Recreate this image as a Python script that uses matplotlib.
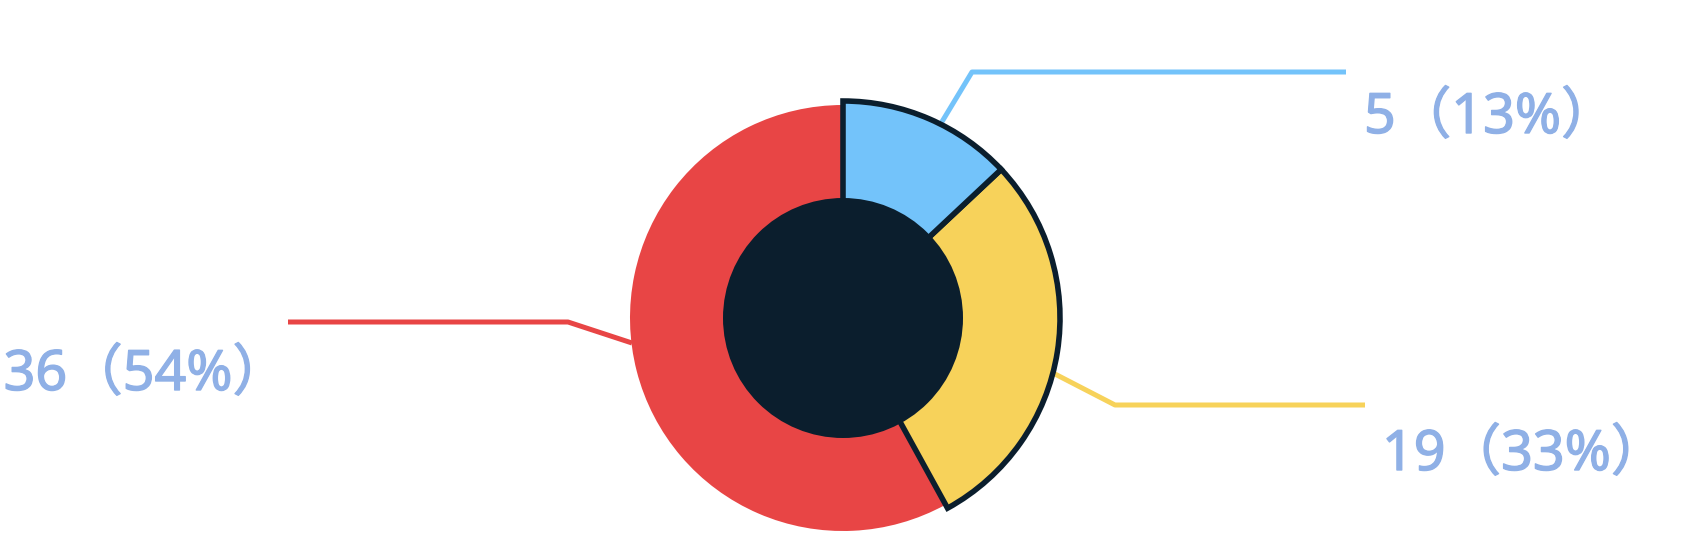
import matplotlib
matplotlib.use("Agg")
import matplotlib.pyplot as plt
from matplotlib.patches import Wedge, Circle
import matplotlib.patheffects as pe
import numpy as np

# ---- data ----
counts = [5, 19, 36]
percent_labels = ["13%", "33%", "54%"]
slice_shares = [13, 29, 58]          # angular share of each slice as drawn
colors = ["#73c3fa", "#f7d25a", "#e84545"]
highlighted = [True, True, False]

W, H = 1686, 534
fig = plt.figure(figsize=(W / 100, H / 100), dpi=100)
ax = fig.add_axes([0, 0, 1, 1])
ax.set_xlim(0, W)
ax.set_ylim(H, 0)
ax.set_aspect("equal")
ax.axis("off")

cx, cy = 843, 318
r_out, r_out_hi, r_in = 213, 217, 120
dark = "#0b1e2d"
label_color = "#8fb0e6"

fr = np.array(slice_shares, float) / sum(slice_shares)
starts = np.concatenate([[0], np.cumsum(fr)[:-1]]) * 360
ends = np.cumsum(fr) * 360

order = [2, 1, 0]
for i in order:
    t1, t2 = starts[i] - 90, ends[i] - 90
    if highlighted[i]:
        w = Wedge((cx, cy), r_out_hi, t1, t2, facecolor=colors[i],
                  edgecolor=dark, linewidth=4.0, joinstyle="miter", zorder=3)
    else:
        w = Wedge((cx, cy), r_out, t1, t2, facecolor=colors[i],
                  edgecolor="none", zorder=2)
    ax.add_patch(w)

ax.add_patch(Circle((cx, cy), r_in, facecolor=dark, edgecolor="none", zorder=4))

# leader lines
lw = 3.6
ax.plot([940, 972, 1346], [125, 72, 72], color=colors[0], lw=lw, zorder=1,
        solid_capstyle="butt")
ax.plot([1053, 1115, 1365], [373, 405, 405], color=colors[1], lw=lw, zorder=1,
        solid_capstyle="butt")
ax.plot([632, 568, 288], [343, 322, 322], color=colors[2], lw=lw, zorder=1,
        solid_capstyle="butt")

fam = ["Noto Sans", "Noto Sans CJK SC", "DejaVu Sans"]
fs = 40
txt = [f"{c}（{p}）" for c, p in zip(counts, percent_labels)]
kw = dict(color=label_color, fontsize=fs, family=fam,
          va="center_baseline",
          path_effects=[pe.withStroke(linewidth=1.0, foreground=label_color)])
ax.text(1364, 112, txt[0], ha="left", **kw)
ax.text(1382, 449, txt[1], ha="left", **kw)
ax.text(288, 369, txt[2], ha="right", **kw)

fig.savefig("out.png", dpi=100, facecolor="white")
